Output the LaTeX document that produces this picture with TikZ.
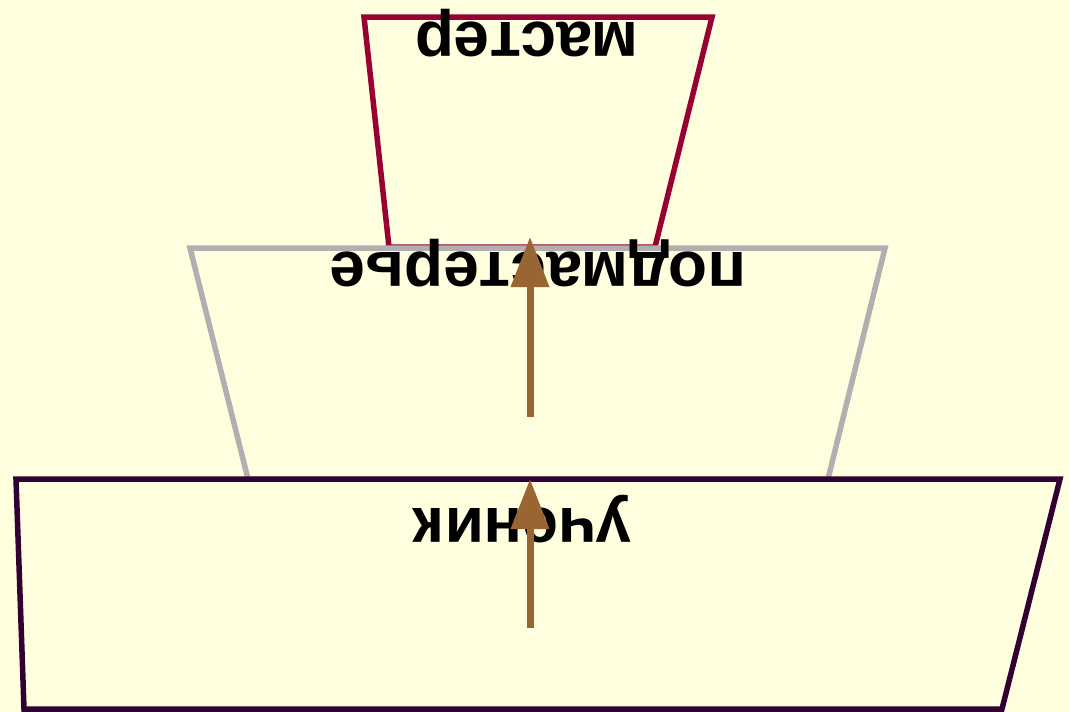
\documentclass[tikz,border=0pt]{standalone}
\usepackage{fontspec}
\setmainfont{Liberation Sans}
\usetikzlibrary{arrows.meta}
\definecolor{bg}{HTML}{FFFFDF}
\definecolor{crim}{HTML}{990033}
\definecolor{grayc}{HTML}{B0B0B0}
\definecolor{dpurp}{HTML}{330033}
\definecolor{brown}{HTML}{996633}
\tikzset{
  level/.style={line width=5.5pt, line join=miter},
  lbl/.style={rotate=180, anchor=base, inner sep=0pt, font=\fontsize{64}{70}\selectfont\bfseries, text=black},
  uparrow/.style={draw=brown, line width=7pt, -{Triangle[length=50pt,width=37pt]}, brown}
}
\begin{document}
\begin{tikzpicture}[x=1pt,y=-1pt]
\fill[bg] (0,0) rectangle (1069,712);
\useasboundingbox (0,0) rectangle (1069,712);
% levels
\draw[level, crim] (364,17) -- (712,17) -- (655,247) -- (389,247) -- cycle;
\draw[level, grayc] (190,248) -- (885,248) -- (828,479) -- (248,479) -- cycle;
\draw[level, dpurp] (16,479) -- (1060,479) -- (1002,709) -- (24,709) -- cycle;
% labels
\node[lbl] (master) at (527,22) {мастер};
\node[lbl] (podm) at (538,252) {подмастерье};
\node[lbl] (uchen) at (522,508) {ученик};
% arrows
\coordinate (a1s) at (530,417);
\coordinate (a1e) at (530,237);
\coordinate (a2s) at (530,628);
\coordinate (a2e) at (530,479);
\draw[uparrow] (a1s) -- (a1e);
\draw[uparrow] (a2s) -- (a2e);
\end{tikzpicture}
\end{document}
